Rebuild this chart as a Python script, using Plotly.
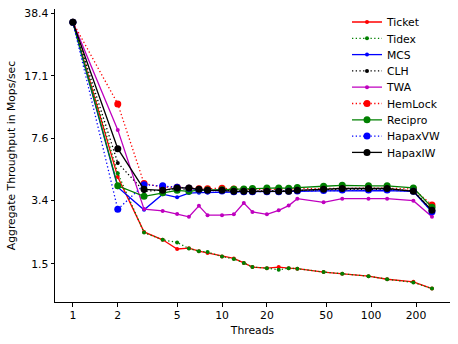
import plotly.graph_objects as go

threads = [1, 2, 3, 4, 5, 6, 7, 8, 10, 12, 14, 16, 20, 24, 28, 32, 48, 64, 96, 128, 192, 256]

ticket = [34.2, 4.62, 2.27, 2.05, 1.82, 1.84, 1.77, 1.73, 1.65, 1.61, 1.52, 1.44, 1.42, 1.44, 1.42, 1.41, 1.35, 1.32, 1.28, 1.23, 1.19, 1.09]
tidex = [34.2, 4.85, 2.25, 2.05, 1.98, 1.83, 1.77, 1.75, 1.65, 1.60, 1.52, 1.44, 1.42, 1.39, 1.42, 1.41, 1.35, 1.32, 1.28, 1.23, 1.18, 1.09]
mcs = [34.2, 4.05, 3.02, 3.70, 3.55, 3.75, 3.77, 3.77, 3.80, 3.80, 3.82, 3.82, 3.82, 3.82, 3.83, 3.84, 3.86, 3.87, 3.87, 3.87, 3.84, 2.93]
clh = [34.2, 5.54, 3.84, 3.92, 3.95, 3.95, 3.90, 3.87, 3.88, 3.85, 3.85, 3.86, 3.86, 3.86, 3.86, 3.88, 3.92, 3.94, 3.94, 3.94, 3.87, 3.00]
twa = [34.2, 8.5, 3.05, 2.98, 2.86, 2.76, 3.18, 2.82, 2.82, 2.85, 3.30, 2.94, 2.85, 3.00, 3.19, 3.49, 3.33, 3.49, 3.49, 3.49, 3.40, 2.76]
hemlock = [34.2, 11.9, 4.25, 4.05, 4.05, 4.00, 3.97, 3.97, 4.00, 3.95, 3.93, 3.93, 3.93, 3.95, 3.95, 3.97, 3.98, 4.00, 4.00, 4.00, 3.95, 3.22]
recipro = [34.2, 4.12, 3.60, 3.77, 3.89, 3.84, 3.90, 3.90, 3.92, 3.94, 3.96, 3.98, 4.01, 4.01, 3.99, 4.03, 4.10, 4.15, 4.12, 4.12, 4.01, 3.12]
hapaxvw = [34.2, 3.04, 4.18, 4.12, 4.05, 4.00, 3.90, 3.87, 3.85, 3.82, 3.82, 3.82, 3.82, 3.82, 3.84, 3.86, 3.88, 3.90, 3.90, 3.90, 3.84, 2.95]
hapaxiw = [34.2, 6.67, 3.94, 3.89, 4.01, 4.01, 3.94, 3.89, 3.89, 3.84, 3.84, 3.84, 3.84, 3.84, 3.84, 3.89, 3.94, 3.98, 3.98, 3.98, 3.84, 3.00]

x_ticks = [1, 2, 5, 10, 20, 50, 100, 200]
y_ticks = [1.5, 3.4, 7.6, 17.1, 38.4]
y_tick_labels = ["1.5", "3.4", "7.6", "17.1", "38.4"]

DOT = "1.3px,2.4px"
series = [
    ("Ticket", ticket, "#ff0000", "solid", 4),
    ("Tidex", tidex, "#008000", DOT, 4),
    ("MCS", mcs, "#0000ff", "solid", 4),
    ("CLH", clh, "#000000", DOT, 4),
    ("TWA", twa, "#bf00bf", "solid", 4),
    ("HemLock", hemlock, "#ff0000", DOT, 7),
    ("Recipro", recipro, "#008000", "solid", 7),
    ("HapaxVW", hapaxvw, "#0000ff", DOT, 7),
    ("HapaxIW", hapaxiw, "#000000", "solid", 7),
]

FONT = "DejaVu Sans"
fs = 10.8

# canvas is wider than the 458px window so legends never get clamped;
# the overflow is hidden and the plot area stays at x = 55..450
W, H = 520, 344
plot_left, plot_right = 55, 450
plot_top, plot_bottom = 8, 302
legend_first, legend_step = 22.0, 16.3
legend_left_px = 347

fig = go.Figure()
layout_legends = {}
for i, (name, vals, color, dash, msize) in enumerate(series):
    lname = "legend" if i == 0 else f"legend{i+1}"
    fig.add_trace(go.Scatter(
        x=threads, y=vals, name=name, mode="lines+markers",
        line=dict(color=color, width=1.3, dash=dash),
        marker=dict(color=color, size=msize, symbol="circle"),
        legend=lname,
    ))
    ypx = legend_first + i * legend_step
    ypaper = (plot_bottom - ypx) / (plot_bottom - plot_top)
    layout_legends[lname] = dict(
        x=(legend_left_px - plot_left) / (plot_right - plot_left),
        y=ypaper, xanchor="left", yanchor="middle",
        bgcolor="rgba(0,0,0,0)", borderwidth=0,
        font=dict(family=FONT, size=fs, color="#000000"),
        itemwidth=30,
    )

fig.update_layout(
    width=W, height=H,
    margin=dict(l=plot_left, r=W - plot_right, t=plot_top, b=H - plot_bottom),
    paper_bgcolor="white", plot_bgcolor="white",
    font=dict(family=FONT, size=fs, color="#000000"),
    showlegend=True,
    **layout_legends,
)
fig.update_xaxes(
    type="log", range=[-0.12, 2.529], automargin=False,
    tickvals=x_ticks, ticktext=[str(v) for v in x_ticks],
    showline=True, linecolor="black", linewidth=1, mirror=False,
    ticks="outside", ticklen=3.5, tickcolor="black", tickwidth=1,
    showgrid=False, zeroline=False,
    title=dict(text="Threads", font=dict(family=FONT, size=fs), standoff=4),
)
fig.update_yaxes(
    type="log", range=[-0.038, 1.609], automargin=False,
    tickvals=y_ticks, ticktext=y_tick_labels,
    showline=True, linecolor="black", linewidth=1, mirror=False,
    ticks="outside", ticklen=3.5, tickcolor="black", tickwidth=1,
    showgrid=False, zeroline=False,
    title=dict(text="Aggregate Throughput in Mops/sec", font=dict(family=FONT, size=fs), standoff=6),
)

fig.write_html(
    "out.html", config={"displayModeBar": False},
    post_script=("document.body.style.margin='0px';"
                 "document.body.style.overflow='hidden';"
                 "document.documentElement.style.overflow='hidden';"),
)
